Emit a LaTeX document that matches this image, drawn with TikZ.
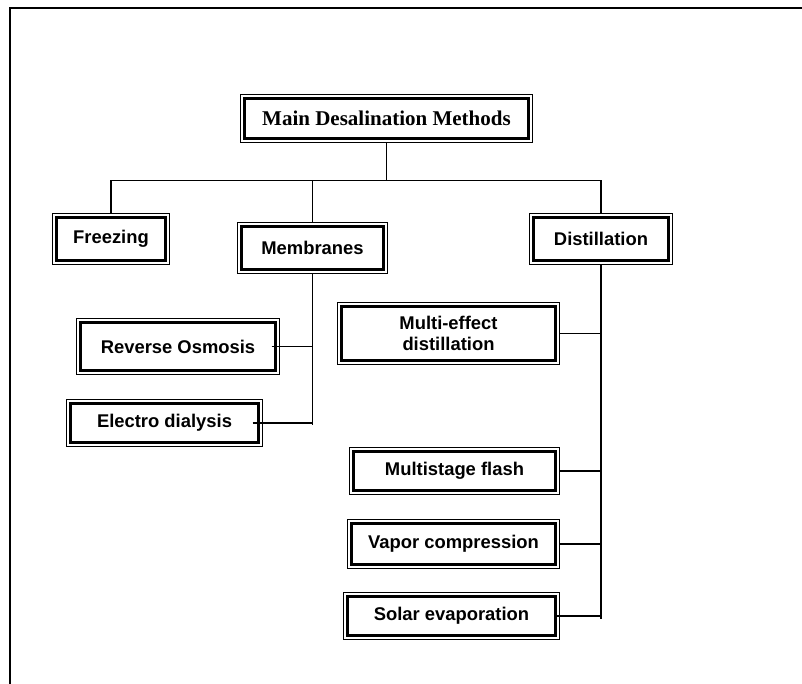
\documentclass[tikz,border=0pt]{standalone}
\usepackage{fontspec}
\setmainfont{Liberation Serif}
\setsansfont{Liberation Sans}
\begin{document}
\begin{tikzpicture}[x=1pt,y=1pt]
\tikzset{noeud/.style={draw, line width=2.6pt, outer sep=3.75pt, inner sep=0pt, align=center,
  font=\sffamily\bfseries\fontsize{18.4}{21}\selectfont,
  append after command={\pgfextra{\draw[line width=1.1pt] (\tikzlastnode.south west) rectangle (\tikzlastnode.north east);}}},
  lien/.style={line width=1.9pt}}
\useasboundingbox (0,-684) rectangle (802,0);
\draw[line width=2.2pt] (10,-684) -- (10,-7.8) -- (802,-7.8);
\node[noeud, minimum width=284.5pt, minimum height=40.5pt, font=\rmfamily\bfseries\fontsize{21}{24}\selectfont] (main) at (386.5,-118.5) {Main Desalination Methods};
\node[noeud, minimum width=109.5pt, minimum height=43.5pt] (freez) at (111,-239) {Freezing};
\node[noeud, minimum width=142.5pt, minimum height=43.5pt] (membr) at (312.5,-248) {Membranes};
\node[noeud, minimum width=135.5pt, minimum height=43.5pt] (distil) at (601,-239) {Distillation};
\node[noeud, minimum width=195.5pt, minimum height=48.5pt] (ro) at (178,-346.5) {Reverse Osmosis};
\node[noeud, minimum width=188.5pt, minimum height=39.5pt] (ed) at (164.5,-423) {Electro dialysis};
\node[noeud, minimum width=214.5pt, minimum height=54.5pt] (med) at (448.5,-333.5) {Multi-effect\\distillation};
\node[noeud, minimum width=202.5pt, minimum height=39.5pt] (msf) at (454.5,-471) {Multistage flash};
\node[noeud, minimum width=204.5pt, minimum height=41.5pt] (vc) at (453.5,-544) {Vapor compression};
\node[noeud, minimum width=208.5pt, minimum height=39.5pt] (se) at (451.5,-616) {Solar evaporation};
\draw[lien] (main.south) -- ++(0,-38) coordinate (hub);
\draw[lien] (freez.north) |- (hub) -| (distil.north);
\draw[lien] (membr.north) -- (membr.north |- hub);
\draw[lien] (membr.south) -- ([yshift=-2pt]membr.south |- ed.east) coordinate (mbas);
\draw[lien] ([xshift=-8pt]ro.east) -- (ro.east -| mbas);
\draw[lien] ([xshift=-10pt]ed.east) -- (ed.east -| mbas);
\draw[lien] (distil.south) -- ([yshift=-3pt]distil.south |- se.east) coordinate (dbas);
\draw[lien] (med.east) -- (med.east -| dbas);
\draw[lien] (msf.east) -- (msf.east -| dbas);
\draw[lien] (vc.east) -- (vc.east -| dbas);
\draw[lien] ([xshift=-3pt]se.east) -- (se.east -| dbas);
\end{tikzpicture}
\end{document}
